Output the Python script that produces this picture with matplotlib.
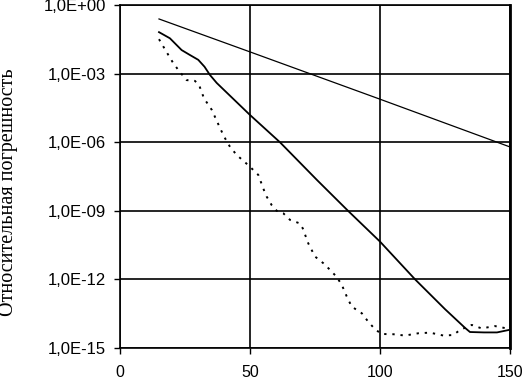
import numpy as np
import matplotlib
matplotlib.use("Agg")
import matplotlib.pyplot as plt
from matplotlib.ticker import FixedLocator, NullLocator

# Thin straight line
x_thin = [15, 50, 100, 150]
y_thin = [2.45e-1, 8.9e-3, 7.6e-5, 6.2e-7]

# Solid line
x_solid = [15, 19.2, 23.7, 26.9, 30.1, 32.5, 34.6, 37.2, 50, 61.5, 75.8, 87.7,
           100, 113.5, 125, 132.7, 134.6, 140, 145, 150]
y_solid = [6.5e-2, 3.5e-2, 1.07e-2, 6.5e-3, 4.0e-3, 2.0e-3, 8.7e-4, 3.9e-4,
           1.55e-5, 1.0e-6, 2.2e-8, 1.0e-9, 4.5e-11, 1.0e-12, 5.0e-14,
           7.6e-15, 5.0e-15, 4.8e-15, 4.8e-15, 6.3e-15]

# Dotted line
x_dot = [15, 16.7, 18.6, 20.3, 22.4, 25.6, 28.8, 30.4, 32.3, 35.3, 38.5, 40.1,
         42.3, 44.9, 48.5, 50.6, 53.2, 55.1, 56.4, 58.3, 60.3, 62.8, 65.4, 69.2,
         70.3, 72.4, 75.0, 78.2, 80.8, 83.3, 85.3, 87.2, 89.1, 93.0, 95.5, 98.1,
         100.6, 105.1, 109.6, 114.7, 119.2, 124.4, 128.2, 130.8, 135.3, 139.1,
         144.2, 148.7, 150]
y_dot = [3.2e-2, 1.5e-2, 6.5e-3, 3.1e-3, 1.45e-3, 5.2e-4, 4.8e-4, 3.2e-4,
         8.3e-5, 2.6e-5, 4.1e-6, 1.7e-6, 6.3e-7, 2.75e-7, 1.2e-7, 7.2e-8,
         3.7e-8, 9.5e-9, 4.2e-9, 1.8e-9, 1.0e-9, 7.8e-10, 4.0e-10, 2.8e-10,
         1.7e-10, 3.8e-11, 1.0e-11, 5.1e-12, 2.6e-12, 1.3e-12, 5.8e-13,
         1.8e-13, 6.5e-14, 3.3e-14, 1.4e-14, 6.6e-15, 4.1e-15, 4.0e-15,
         3.5e-15, 4.4e-15, 4.7e-15, 3.5e-15, 3.7e-15, 6.2e-15, 1.02e-14,
         7.2e-15, 9.1e-15, 7.2e-15, 7.9e-15]

x_ticks = [0, 50, 100, 150]
y_ticks = [1e0, 1e-3, 1e-6, 1e-9, 1e-12, 1e-15]
y_tick_labels = ["1,0E+00", "1,0E-03", "1,0E-06", "1,0E-09", "1,0E-12", "1,0E-15"]
y_label = "Относительная погрешность"

fig = plt.figure(figsize=(5.23, 3.79), dpi=100)
ax = fig.add_axes([120/523, 31/379, 390/523, 343/379])

ax.plot(x_thin, y_thin, color="black", lw=0.9)
ax.plot(x_solid, y_solid, color="black", lw=1.3)
ax.plot(x_dot, y_dot, color="black", lw=1.4, linestyle=(0, (1.2, 3.0)))

ax.set_yscale("log")
ax.set_xlim(0, 150)
ax.set_ylim(1e-15, 1e0)
ax.xaxis.set_major_locator(FixedLocator(x_ticks))
ax.yaxis.set_major_locator(FixedLocator(y_ticks))
ax.yaxis.set_minor_locator(NullLocator())
ax.set_yticklabels(y_tick_labels)
ax.set_xticklabels([str(v) for v in x_ticks])
ax.grid(True, which="major", color="black", lw=1.2)
for s in ax.spines.values():
    s.set_color("black")
    s.set_linewidth(1.2)
ax.spines["right"].set_linewidth(2.0)
ax.tick_params(axis="both", direction="out", length=4, width=1.0, colors="black")
ax.tick_params(axis="y", pad=6, labelsize=12)
ax.tick_params(axis="x", pad=8, labelsize=11.5)
for lab in ax.get_xticklabels() + ax.get_yticklabels():
    lab.set_family("Liberation Sans")

fig.text(9/523, 1 - 192/379, y_label, rotation=90, ha="center", va="center",
         family="Liberation Serif", fontsize=14.5)

fig.savefig("out.png", dpi=100)
